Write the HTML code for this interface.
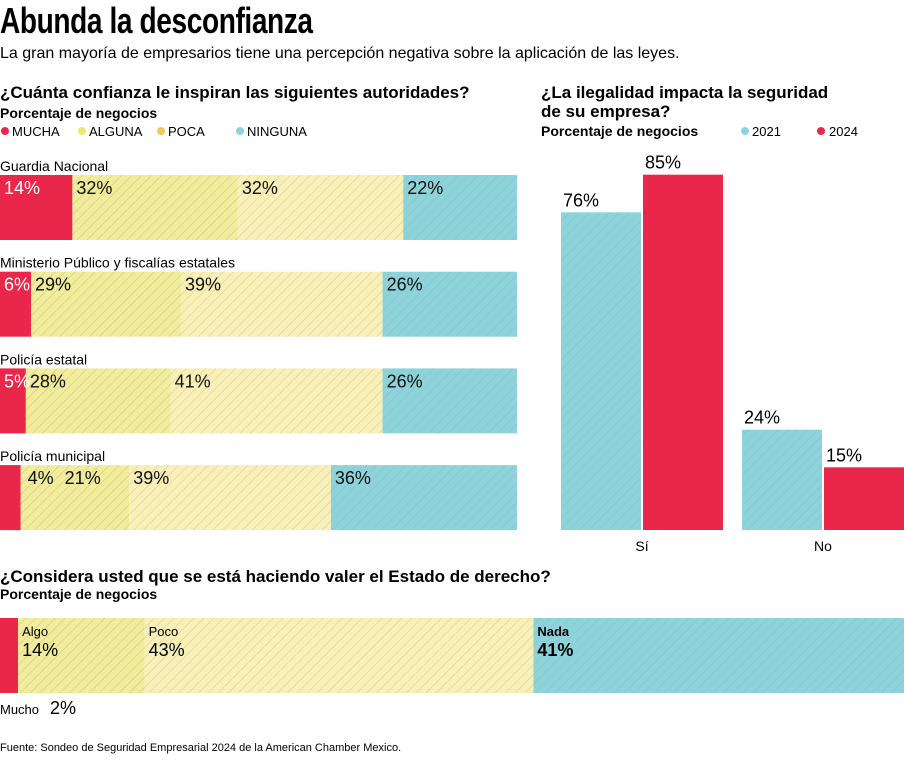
<!DOCTYPE html>
<html><head><meta charset="utf-8"><style>
body{margin:0;background:#fff;font-family:"Liberation Sans",sans-serif;color:#111}
svg text{font-family:"Liberation Sans",sans-serif}
</style></head><body>
<svg width="904" height="755" viewBox="0 0 904 755">
<defs>
<pattern id="hA" width="7" height="7" patternUnits="userSpaceOnUse" patternTransform="rotate(45)"><rect width="7" height="7" fill="#f1ed9c"/><line x1="0" y1="0" x2="0" y2="7" stroke="#c9c27a" stroke-width="1"/></pattern>
<pattern id="hP" width="7" height="7" patternUnits="userSpaceOnUse" patternTransform="rotate(45)"><rect width="7" height="7" fill="#f8f0b8"/><line x1="0" y1="0" x2="0" y2="7" stroke="#d6c88a" stroke-width="1"/></pattern>
<pattern id="hN" width="7" height="7" patternUnits="userSpaceOnUse" patternTransform="rotate(45)"><rect width="7" height="7" fill="#8fd3da"/><line x1="0" y1="0" x2="0" y2="7" stroke="#7fc3ca" stroke-width="1"/></pattern>
</defs>
<text x="0" y="33" font-size="36" font-weight="bold" transform="scale(0.78,1)" letter-spacing="-0.5">Abunda la desconfianza</text>
<text x="0" y="58" font-size="16">La gran mayoría de empresarios tiene una percepción negativa sobre la aplicación de las leyes.</text>
<text x="0" y="98" font-size="17" font-weight="bold">¿Cuánta confianza le inspiran las siguientes autoridades?</text>
<text x="0" y="118" font-size="14" font-weight="bold">Porcentaje de negocios</text>
<g font-size="13">
<circle cx="5" cy="131" r="4" fill="#e8274b"/><text x="12" y="136">MUCHA</text>
<circle cx="82" cy="131" r="4" fill="#ece873"/><text x="89" y="136">ALGUNA</text>
<circle cx="161" cy="131" r="4" fill="#f2c85c"/><text x="168" y="136">POCA</text>
<circle cx="240" cy="131" r="4" fill="#8fd3da"/><text x="247" y="136">NINGUNA</text>
</g>
<g id="left"></g>
<text x="541" y="98" font-size="17" font-weight="bold">¿La ilegalidad impacta la seguridad</text>
<text x="541" y="117" font-size="17" font-weight="bold">de su empresa?</text>
<text x="541" y="136" font-size="14" font-weight="bold">Porcentaje de negocios</text>
<g font-size="13">
<circle cx="745" cy="131" r="4" fill="#8fd3da"/><text x="752" y="136">2021</text>
<circle cx="821" cy="131" r="4" fill="#e8274b"/><text x="829" y="136">2024</text>
</g>
<g id="right"></g>
<text x="0" y="582" font-size="17" font-weight="bold">¿Considera usted que se está haciendo valer el Estado de derecho?</text>
<text x="0" y="599" font-size="14" font-weight="bold">Porcentaje de negocios</text>
<g id="bottom"></g>
<text x="0" y="751" font-size="11">Fuente: Sondeo de Seguridad Empresarial 2024 de la American Chamber Mexico.</text>
</svg>
<script>
const NS='http://www.w3.org/2000/svg';
const authorities=['Guardia Nacional','Ministerio Público y fiscalías estatales','Policía estatal','Policía municipal'];
const mucha=[14,6,5,4];
const alguna=[32,29,28,21];
const poca=[32,39,41,39];
const ninguna=[22,26,26,36];
const years=['2021','2024'];
const answers=['Sí','No'];
const val2021=[76,24];
const val2024=[85,15];
const estCats=['Mucho','Algo','Poco','Nada'];
const estVals=[2,14,43,41];

function mk(tag,attrs,parent){const e=document.createElementNS(NS,tag);for(const k in attrs)e.setAttribute(k,attrs[k]);parent.appendChild(e);return e;}
function txt(parent,x,y,s,size,extra){const t=mk('text',Object.assign({x:x,y:y,'font-size':size},extra||{}),parent);t.textContent=s;return t;}

const L=document.getElementById('left');
const lx=v=>v*517/100;
const fills=['#e8274b','url(#hA)','url(#hP)','url(#hN)'];
const segNames=['mucha','alguna','poca','ninguna'];
authorities.forEach((a,i)=>{
  const y=175+i*96.7;
  const lab=txt(L,0,y-4,a,14);
  
  
  const vals=[mucha[i],alguna[i],poca[i],ninguna[i]];
  let acc=0;
  const labels=[];
  vals.forEach((v,j)=>{
    const r=mk('rect',{x:lx(acc),y:y,width:lx(v),height:65,fill:fills[j]},L);
    
    
    let tx=lx(acc)+4;
    if(j===0&&v<5) tx=lx(acc+v)+7;
    if(j===1&&vals[0]<5) tx=lx(acc)+44;
    labels.push([tx,v+'%',j===0&&v>=5?'#fff':'#111']);
    acc+=v;
  });
  labels.forEach(l=>{
    const t=txt(L,l[0],y+19,l[1],18,{fill:l[2]});
    
    
  });
});

const R=document.getElementById('right');
const base=530, ry=v=>base-v*4.18;
answers.forEach((a,i)=>{
  const gx=561+i*181;
  [[val2021[i],'#8fd3da','url(#hN)'],[val2024[i],'#e8274b','#e8274b']].forEach((d,k)=>{
    const x=gx+k*82;
    const r=mk('rect',{x:x,y:ry(d[0]),width:80,height:base-ry(d[0]),fill:d[2]},R);
    
    
    const t=txt(R,x+2,ry(d[0])-6,d[0]+'%',18);
    
    
  });
  const c=txt(R,gx+81,base+21,a,14,{'text-anchor':'middle'});
  
  
});

const B=document.getElementById('bottom');
const bx=v=>v*904/100;
const bf=['#e8274b','url(#hA)','url(#hP)','url(#hN)'];
let acc=0;
estVals.forEach((v,j)=>{
  const r=mk('rect',{x:bx(acc),y:618,width:bx(v),height:75,fill:bf[j]},B);
  
  
  if(j===0){
    const t=txt(B,0,714,estCats[j],13);
    
    
    const t2=txt(B,50,714,v+'%',18);
    
    
  } else {
    const t=txt(B,bx(acc)+4,636,estCats[j],13,j===3?{'font-weight':'bold'}:{});
    
    
    const t2=txt(B,bx(acc)+4,656,v+'%',18,j===3?{'font-weight':'bold'}:{});
    
    
  }
  acc+=v;
});
</script>
</body></html>
